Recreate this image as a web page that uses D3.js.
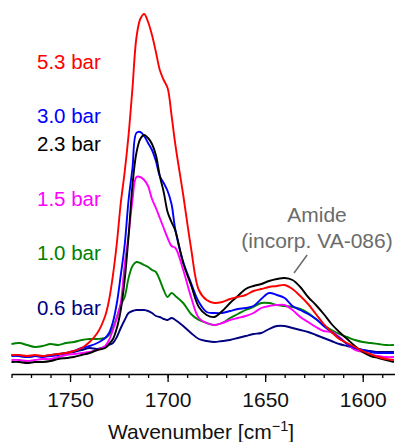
<!DOCTYPE html>
<html>
<head>
<meta charset="utf-8">
<script src="https://cdn.jsdelivr.net/npm/d3@7/dist/d3.min.js"></script>
<style>
  html, body { margin: 0; padding: 0; background: #fff; }
  svg { display: block; }
  text { font-family: "Liberation Sans", Arial, Helvetica, sans-serif; }
</style>
</head>
<body>
<svg id="chart" width="395" height="442"></svg>
<script>
// Wavenumbers (cm^-1) shared by all spectra
const wavenumbers = [1780,1776,1772,1768,1764,1760,1756,1752,1748,1744,1740,1736,1732,
  1730,1728,1726,1724,1722,1720,1718,1716,1714,1712,1710,1708,1706,1704,1702,1700,1698,1696,
  1692,1688,1684,1680,1676,1672,1668,1664,1660,1656,1652,1648,1644,1640,1636,1632,1628,1624,1620,1616,1612,1608,1604,1600,1596,1592,1588,1584];

// Absorbance (arbitrary units) for each pressure
const bar06 = [15,14,13,14,14,15,16,17,18,20,22,21,23,
  25,27,33,42,50,57,59,60,60,60,59,57,54,53,51,50,52,50,
  44,37,31,29,28,29,30,32,34,36,37,41,44,44,42,40,38,35,32,29,26,24,22,20,19,18,18,18];
const bar10 = [26,27,25,23,24,26,25,27,28,30,31,31,32,
  35,42,53,65,73,92,104,108,107,105,103,100,98,90,80,73,77,74,
  67,56,50,47,45,47,52,56,60,63,67,67,65,64,63,61,57,51,45,40,36,33,30,28,27,26,25,25];
const bar15 = [10,10,9,10,11,11,13,15,16,17,18,20,24,
  30,40,52,67,105,135,170,193,193,190,184,171,162,152,142,132,124,122,
  100,73,52,47,45,47,50,52,54,57,62,64,65,65,60,53,48,43,39,38,33,26,20,18,15,14,13,13];
const bar23 = [8,8,7,8,8,9,11,12,13,15,17,20,22,
  26,31,42,60,90,134,185,217,231,235,232,226,215,194,178,158,148,139,
  107,85,63,55,53,59,67,74,81,84,86,89,91,92,90,83,73,65,56,46,38,31,24,18,14,12,10,8];
const bar30 = [14,14,13,14,13,14,15,17,19,22,24,27,32,
  37,48,67,95,125,170,202,237,238,234,227,220,209,194,187,179,166,140,
  108,87,68,58,57,57,59,61,62,64,71,77,75,72,64,60,56,51,44,38,32,26,22,20,18,17,17,17];
const bar53 = [15,15,14,15,14,15,16,17,19,22,28,37,54,
  70,95,127,167,198,235,282,332,351,356,348,335,318,300,290,282,255,225,
  175,122,80,70,67,68,71,73,75,79,81,83,84,85,81,74,66,56,46,38,31,27,23,19,16,13,11,10];

const seriesLabels = ["0.6 bar","1.0 bar","1.5 bar","3.0 bar","2.3 bar","5.3 bar"];
const seriesValues = [bar06, bar10, bar15, bar30, bar23, bar53];
const seriesColors = ["#000080","#008000","#ff00ff","#0000ff","#000000","#ff0000"];

const majorTicks = [1750,1700,1650,1600];
const minorTicks = d3.range(1780, 1585, -10);
const annotationLines = ["Amide","(incorp. VA-086)"];

const svg = d3.select("#chart");

const x = d3.scaleLinear().domain([1780, 1583]).range([11.5, 395.9]);
const y = d3.scaleLinear().domain([0, 360]).range([370, 10]);
const axisY = 374;

const line = d3.line()
  .x(d => x(d[0]))
  .y(d => y(d[1]))
  .curve(d3.curveCatmullRom.alpha(0.5));

seriesValues.forEach((vals, i) => {
  const pts = wavenumbers.map((w, j) => [w, vals[j]]);
  svg.append("path")
    .attr("d", line(pts))
    .attr("fill", "none")
    .attr("stroke", seriesColors[i])
    .attr("stroke-width", 1.9)
    .attr("stroke-linejoin", "round");
});

// Minor ticks
const minorAxis = d3.axisBottom(x).tickValues(minorTicks).tickSize(4).tickSizeOuter(0).tickFormat("");
const gMinor = svg.append("g").attr("transform", `translate(0,${axisY})`).call(minorAxis);
gMinor.select(".domain").attr("stroke-width", 1.5);
gMinor.selectAll(".tick line").attr("stroke-width", 1.3);

// Major ticks
const majorAxis = d3.axisBottom(x).tickValues(majorTicks).tickSize(8).tickSizeOuter(0).tickPadding(10).tickFormat(d3.format("d"));
const gMajor = svg.append("g").attr("transform", `translate(0,${axisY})`).call(majorAxis);
gMajor.select(".domain").remove();
gMajor.selectAll(".tick line").attr("stroke-width", 1.3);
gMajor.selectAll(".tick text")
  .attr("font-size", "21px")
  .attr("fill", "#111")
  .style("font-family", '"Liberation Sans", Arial, sans-serif');

// Axis title
const title = svg.append("text")
  .attr("x", 201).attr("y", 439)
  .attr("text-anchor", "middle")
  .attr("font-size", "21px")
  .attr("fill", "#111");
title.append("tspan").text("Wavenumber [cm");
title.append("tspan").text("\u22121").attr("font-size", "14.5px").attr("dy", -8.5);
title.append("tspan").text("]").attr("dy", 8.5);

// Series labels
const labelBaselines = [315, 260, 206, 123, 151, 68.5];
seriesLabels.forEach((t, i) => {
  svg.append("text")
    .attr("x", 37).attr("y", labelBaselines[i])
    .attr("font-size", "20.5px")
    .attr("fill", seriesColors[i])
    .text(t);
});

// Amide annotation
annotationLines.forEach((t, i) => {
  svg.append("text")
    .attr("x", 317).attr("y", 222 + i * 26)
    .attr("text-anchor", "middle")
    .attr("font-size", "21px")
    .attr("fill", "#6b6b6b")
    .text(t);
});
svg.append("line")
  .attr("x1", x(1628.5)).attr("y1", 255)
  .attr("x2", x(1635.2)).attr("y2", 273)
  .attr("stroke", "#6b6b6b")
  .attr("stroke-width", 1.5);
</script>
</body>
</html>
